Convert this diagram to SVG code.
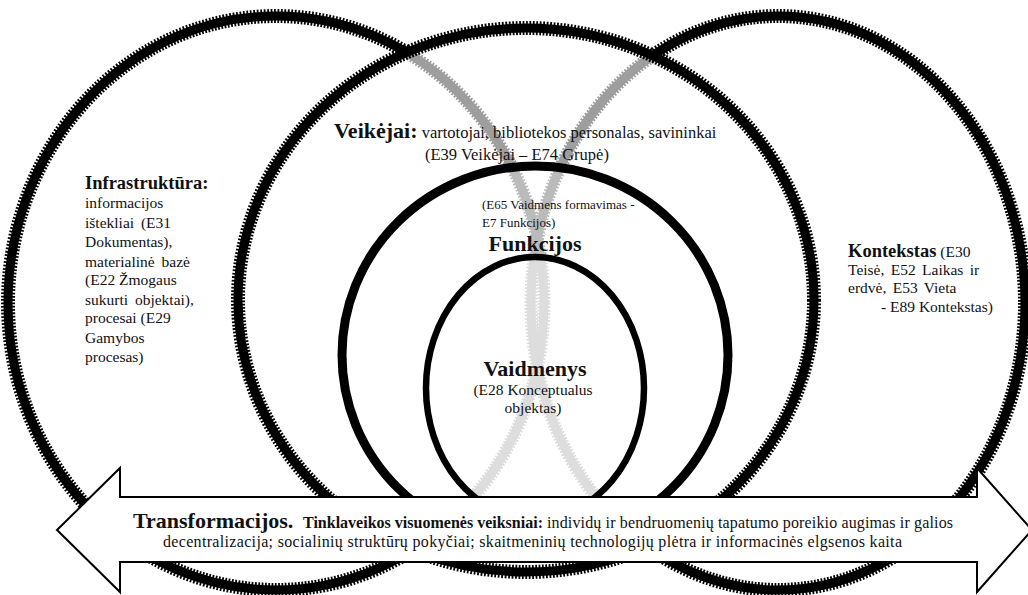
<svg xmlns="http://www.w3.org/2000/svg" width="1028" height="595" viewBox="0 0 1028 595">
<style>
.ser{fill:none;stroke:#000;stroke-width:9}
.teeth{fill:none;stroke:#000;stroke-width:14;stroke-dasharray:1.8 1.6}
.gser{fill:none;stroke:#9e9e9e;stroke-width:9}
.gteeth{fill:none;stroke:#9e9e9e;stroke-width:13;stroke-dasharray:1.8 1.6}
text{font-family:"Liberation Serif","Times New Roman",serif;fill:#111}
.b{font-weight:bold}
.r15{font-size:15.5px}
</style>
<defs>
<clipPath id="inMid"><ellipse cx="526" cy="300" rx="288" ry="272"/></clipPath>
</defs>
<rect width="1028" height="595" fill="#fff"/>

<g id="infrastruktura">
<ellipse class="ser" cx="276" cy="303" rx="268" ry="287"/>
<ellipse class="teeth" cx="276" cy="303" rx="268" ry="287"/>
<text x="85" y="189" class="b" font-size="18.5">Infrastruktūra:</text>
<text class="r15" x="85" y="208">informacijos</text>
<text class="r15" x="85" y="228" word-spacing="3">ištekliai (E31</text>
<text class="r15" x="85" y="247">Dokumentas),</text>
<text class="r15" x="85" y="267" word-spacing="3">materialinė bazė</text>
<text class="r15" x="85" y="285">(E22 Žmogaus</text>
<text class="r15" x="85" y="305" word-spacing="3">sukurti objektai),</text>
<text class="r15" x="85" y="323">procesai (E29</text>
<text class="r15" x="85" y="343">Gamybos</text>
<text class="r15" x="85" y="362">procesas)</text>
</g>

<g id="kontekstas">
<ellipse class="ser" cx="778" cy="303" rx="247" ry="287"/>
<ellipse class="teeth" cx="778" cy="303" rx="247" ry="287"/>
<text x="848" y="257"><tspan class="b" font-size="18.5">Kontekstas</tspan><tspan class="r15"> (E30</tspan></text>
<text class="r15" x="848" y="275" word-spacing="2.5">Teisė, E52 Laikas ir</text>
<text class="r15" x="848" y="293" word-spacing="2.5">erdvė, E53 Vieta</text>
<text class="r15" x="881" y="312">- E89 Kontekstas)</text>
</g>

<g id="overlap">
<ellipse cx="526" cy="300" rx="288" ry="272" fill="#fff"/>
<g clip-path="url(#inMid)">
<ellipse class="gser" cx="276" cy="303" rx="268" ry="287"/>
<ellipse class="gteeth" cx="276" cy="303" rx="268" ry="287"/>
<ellipse class="gser" cx="778" cy="303" rx="247" ry="287"/>
<ellipse class="gteeth" cx="778" cy="303" rx="247" ry="287"/>
</g>
</g>

<g id="veikejai">
<ellipse class="ser" cx="526" cy="300" rx="288" ry="272"/>
<ellipse class="teeth" cx="526" cy="300" rx="288" ry="272"/>
<text x="334" y="138"><tspan class="b" font-size="22">Veikėjai:</tspan><tspan font-size="16.5"> vartotojai, bibliotekos personalas, savininkai</tspan></text>
<text x="425" y="160" font-size="16.5">(E39 Veikėjai  – E74 Grupė)</text>
</g>

<g id="funkcijos">
<ellipse cx="535" cy="355" rx="193" ry="189" fill="#fff" fill-opacity="0.3" stroke="#000" stroke-width="9"/>
<text x="482" y="209" font-size="13" fill="#333">(E65 Vaidmens formavimas -</text>
<text x="482" y="227" font-size="13" fill="#333">E7 Funkcijos)</text>
<text x="535" y="251" class="b" font-size="22" text-anchor="middle">Funkcijos</text>
</g>

<g id="vaidmenys">
<ellipse cx="535" cy="388" rx="109" ry="131" fill="#fff" fill-opacity="0.5" stroke="#000" stroke-width="6.5"/>
<text x="535" y="376" class="b" font-size="22" text-anchor="middle">Vaidmenys</text>
<text x="533" y="395" class="r15" text-anchor="middle">(E28 Konceptualus</text>
<text x="533" y="413" class="r15" text-anchor="middle">objektas)</text>
</g>

<g id="transformacijos">
<path d="M57,530 L120,468 L120,497 L977,497 L977,468 L1032,530 L977,592 L977,562 L120,562 L120,592 Z" fill="#fff" stroke="#000" stroke-width="2" stroke-linejoin="miter"/>
<text y="528"><tspan x="133" class="b" font-size="22">Transformacijos.</tspan><tspan x="303" class="b" font-size="16" textLength="240" lengthAdjust="spacing">Tinklaveikos visuomenės veiksniai:</tspan><tspan x="547" font-size="16" textLength="406" lengthAdjust="spacing">individų ir bendruomenių tapatumo poreikio augimas ir galios</tspan></text>
<text x="163" y="547" font-size="16" textLength="739" lengthAdjust="spacing">decentralizacija; socialinių struktūrų pokyčiai; skaitmeninių technologijų plėtra ir informacinės elgsenos kaita</text>
</g>
</svg>
